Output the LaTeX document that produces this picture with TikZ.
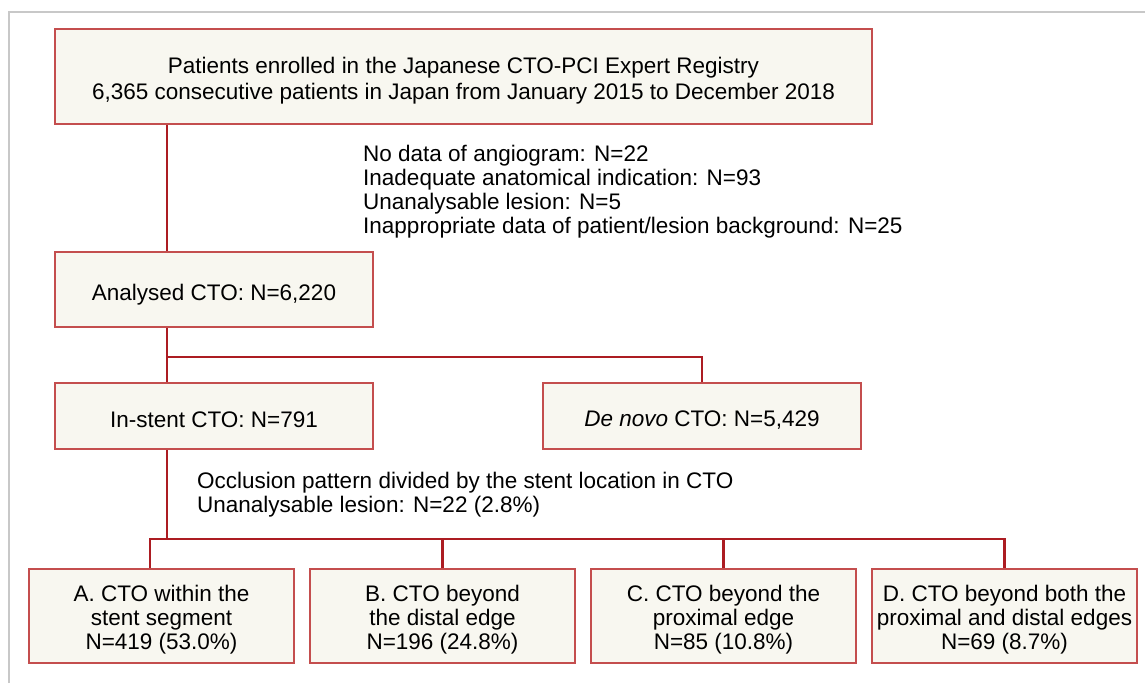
\documentclass[tikz,border=0pt]{standalone}
\usepackage{fontspec}
\setmainfont{Liberation Sans}
\usetikzlibrary{positioning,calc}
\definecolor{boxborder}{RGB}{196,78,78}
\definecolor{linkred}{RGB}{172,28,34}
\definecolor{boxcream}{RGB}{248,247,240}
\definecolor{framegrey}{RGB}{200,200,200}

\begin{document}
\begin{tikzpicture}[x=1pt,y=-1pt,
    every node/.style={font=\fontsize{22.5}{24}\selectfont},
    flowbox/.style={draw=boxborder, fill=boxcream, line width=2pt, rectangle, align=center, inner sep=0pt},
    link/.style={draw=linkred, line width=2.2pt},
    note/.style={anchor=north west, align=left, inner sep=0pt}]
    \useasboundingbox (0,0) rectangle (1145,683);
    \draw[framegrey, line width=2pt] (9,683) -- (9,12) -- (1145,12);

    \node[flowbox, minimum width=817, minimum height=95, font=\fontsize{22.5}{26}\selectfont] (registry) at (463.5,76.5) {\rule{0pt}{24pt}Patients enrolled in the Japanese CTO-PCI Expert Registry\\6,365 consecutive patients in Japan from January 2015 to December 2018};
    \node[note] (excluded) at (363,145) {No data of angiogram: N=22\\Inadequate anatomical indication: N=93\\Unanalysable lesion: N=5\\Inappropriate data of patient/lesion background: N=25};

    \node[flowbox, minimum width=318, minimum height=75] (analysed) at (214,289.5) {\rule{0pt}{26pt}Analysed CTO: N=6,220};
    \node[flowbox, minimum width=318, minimum height=66] (instent) at (214,416) {\rule{0pt}{23pt}In-stent CTO: N=791};
    \node[flowbox, minimum width=318, minimum height=66] (denovo) at (702,416) {\rule{0pt}{23pt}\textit{De novo} CTO: N=5,429};
    \node[note] (pattern) at (197,472) {Occlusion pattern divided by the stent location in CTO\\Unanalysable lesion: N=22 (2.8\%)};

    % Occlusion patterns
    \node[flowbox, minimum width=265, minimum height=94] (ctoA) at (161.5,616) {\rule{0pt}{24pt}A. CTO within the\\stent segment\\N=419 (53.0\%)};
    \node[flowbox, minimum width=265, minimum height=94] (ctoB) at (442.5,616) {\rule{0pt}{24pt}B. CTO beyond\\the distal edge\\N=196 (24.8\%)};
    \node[flowbox, minimum width=265, minimum height=94] (ctoC) at (723.5,616) {\rule{0pt}{24pt}C. CTO beyond the\\proximal edge\\N=85 (10.8\%)};
    \node[flowbox, minimum width=265, minimum height=94] (ctoD) at (1004.5,616) {\rule{0pt}{24pt}D. CTO beyond both the\\proximal and distal edges\\N=69 (8.7\%)};

    % Connectors
    \coordinate (spine) at (167,357);
    \coordinate (fork) at (167,539);
    \draw[link] (registry.south -| spine) -- (analysed.north -| spine);
    \draw[link] (analysed.south -| spine) -- (instent.north -| spine);
    \draw[link] (spine) -| (denovo.north);
    \draw[link] (instent.south -| fork) -- (fork);
    \draw[link] ([xshift=-11.5pt]ctoA.north) |- (fork -| ctoD.north) -- (ctoD.north);
    \foreach \n in {ctoB,ctoC}
        \draw[link] (\n.north) -- (\n.north |- fork);
\end{tikzpicture}
\end{document}
